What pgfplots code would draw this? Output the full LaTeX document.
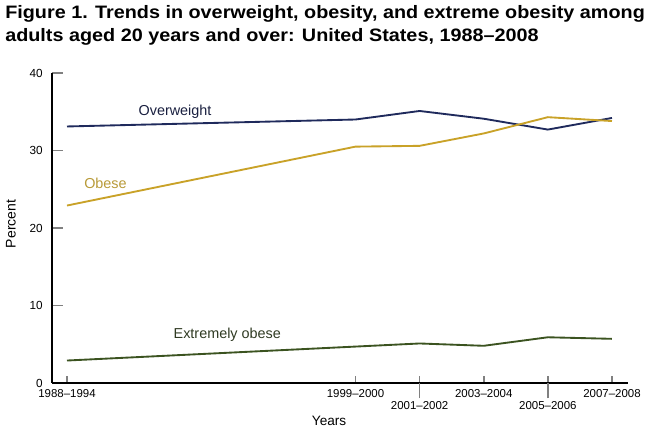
\documentclass[border=0pt]{standalone}
\usepackage{fontspec}
\setmainfont{Liberation Sans}
\newfontfamily\titlefont[FakeStretch=1.1,Ligatures=TeX]{Liberation Sans}
\usepackage{pgfplots}
\pgfplotsset{compat=1.18}
\definecolor{cOver}{HTML}{1F2A5C}
\definecolor{cObese}{HTML}{C9A228}
\definecolor{cExt}{HTML}{3B5320}
\definecolor{tOver}{HTML}{1A2040}
\definecolor{tObese}{HTML}{B89A38}
\definecolor{tExt}{HTML}{2F3A22}
\begin{document}
\begin{tikzpicture}
\path[use as bounding box] (-39pt,-36pt) rectangle (448.5pt,287.25pt);
\node[anchor=base west, inner sep=0pt, font=\titlefont\bfseries\fontsize{13.5pt}{16pt}\selectfont] at (-35.25pt,273.5pt) {Figure 1. Trends in overweight, obesity, and extreme obesity among};
\node[anchor=base west, inner sep=0pt, font=\titlefont\bfseries\fontsize{13.5pt}{16pt}\selectfont] at (-35.25pt,256pt) {adults aged 20 years and over: United States, 1988--2008};
\begin{axis}[
  at={(0pt,0pt)}, anchor=south west,
  scale only axis, width=432pt, height=232.5pt,
  xmin=-0.234, xmax=8.75, ymin=0, ymax=40,
  axis lines=left, axis line style={-, line width=1.6pt},
  /pgf/number format/assume math mode=true,
  tick align=inside,
  ytick={0,10,20,30,40},
  ytick style={line width=1.4pt, /pgfplots/major tick length=8.25pt},
  xtick={0,4.5,5.5,6.5,7.5,8.5},
  xticklabels={1988--1994,1999--2000,{},2003--2004,{},2007--2008},
  xtick style={line width=1.2pt, /pgfplots/major tick length=5.25pt},
  extra x ticks={5.5,7.5},
  extra x tick labels={2001--2002,2005--2006},
  extra x tick style={tick align=outside, xtick style={line width=1.2pt, /pgfplots/major tick length=11.5pt}, xticklabel style={yshift=-5.25pt}},
  xticklabel style={anchor=north, inner sep=0pt, yshift=-4.5pt, font=\fontsize{8.6pt}{10pt}\selectfont},
  yticklabel style={anchor=east, inner sep=0pt, xshift=-6.75pt, font=\fontsize{8.8pt}{10pt}\selectfont},
  xlabel={Years}, ylabel={Percent},
  every axis x label/.style={at={(axis description cs:0.481,-0.1226)}, anchor=center, font=\fontsize{10.2pt}{12pt}\selectfont},
  every axis y label/.style={at={(axis description cs:-0.0712,0.513)}, rotate=90, anchor=center, font=\fontsize{10.5pt}{12pt}\selectfont},
  clip=false,
]
\addplot[cOver, line width=1.4pt] coordinates {(0,33.1) (4.5,34.0) (5.5,35.1) (6.5,34.1) (7.5,32.7) (8.5,34.2)};
\addplot[cObese, line width=1.4pt] coordinates {(0,22.9) (4.5,30.5) (5.5,30.6) (6.5,32.2) (7.5,34.3) (8.5,33.8)};
\addplot[cExt, line width=1.4pt] coordinates {(0,2.9) (4.5,4.7) (5.5,5.1) (6.5,4.8) (7.5,5.9) (8.5,5.7)};
\node[tOver, font=\fontsize{10.8pt}{12pt}\selectfont] at (axis cs:1.685,34.97) {Overweight};
\node[tObese, font=\fontsize{10.8pt}{12pt}\selectfont] at (axis cs:0.60,25.8) {Obese};
\node[tExt, font=\fontsize{10.8pt}{12pt}\selectfont] at (axis cs:2.5,6.19) {Extremely obese};
\end{axis}
\end{tikzpicture}
\end{document}
